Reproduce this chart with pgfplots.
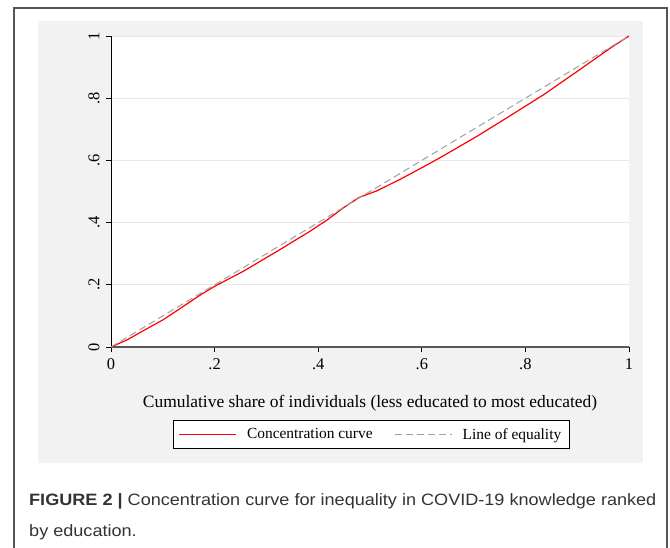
\documentclass[border=0pt]{standalone}
\usepackage{fontspec}
\setmainfont{Liberation Serif}
\newfontfamily\capfont[FakeStretch=1.1]{Liberation Sans}
\usepackage{pgfplots}
\pgfplotsset{compat=1.18}
\definecolor{panelgray}{HTML}{F2F2F2}
\definecolor{gridgray}{HTML}{E8E8E8}
\definecolor{framegray}{HTML}{555555}
\definecolor{eqgray}{HTML}{A0A0A0}
\definecolor{captext}{HTML}{333333}

\begin{document}
\begin{tikzpicture}[x=1bp,y=1bp]
\useasboundingbox (0,0) rectangle (670,548);
\fill[panelgray] (38,85) rectangle (643,527);
\draw[framegray, line width=1.2bp] (14,0) -- (14,540) -- (667,540) -- (667,0);
\begin{axis}[
  at={(111bp,201bp)}, anchor=south west,
  scale only axis, width=518bp, height=311bp,
  xmin=0, xmax=1, ymin=0, ymax=1,
  axis x line*=bottom, axis y line*=left,
  axis line style={-},
  x axis line style={draw=black!65, line width=1.5bp},
  y axis line style={draw=black, line width=0.9bp},
  tick align=outside, major tick length=5bp,
  tick style={black, line width=0.8bp},
  xtick={0,0.2,0.4,0.6,0.8,1},
  xticklabels={0,.2,.4,.6,.8,1},
  ytick={0,0.2,0.4,0.6,0.8,1},
  yticklabels={0,.2,.4,.6,.8,1},
  xticklabel shift=3bp, yticklabel shift=3bp,
  xticklabel style={font=\fontsize{16.5}{16.5}\selectfont},
  yticklabel style={rotate=90, anchor=south, font=\fontsize{16.5}{16.5}\selectfont},
  ymajorgrids, grid style={gridgray, line width=0.8bp},
  axis background/.style={fill=white},
  xlabel={Cumulative share of individuals (less educated to most educated)},
  xlabel style={at={(axis description cs:0.5,-0.18)}, anchor=center, font=\fontsize{17.5}{17.5}\selectfont},
  legend columns=2,
  legend style={at={(axis description cs:0.502,-0.281)}, anchor=center, draw=black,
    fill=white, font=\fontsize{15.5}{15.5}\selectfont, inner xsep=6bp, inner ysep=6bp,
    /tikz/every odd column/.append style={column sep=8bp},
    /tikz/every even column/.append style={column sep=20bp}},
  legend image code/.code={\draw[#1] (0bp,0bp) -- (57bp,0bp);},
]
\addplot[red, line width=1.2bp] coordinates {
  (0,0)(0.03,0.022)(0.062,0.052)(0.101,0.088)(0.13,0.120)(0.156,0.149)
  (0.175,0.170)(0.201,0.196)(0.255,0.243)(0.320,0.307)(0.384,0.372)
  (0.416,0.407)(0.449,0.448)(0.479,0.481)(0.513,0.502)(0.558,0.539)
  (0.603,0.579)(0.642,0.615)(0.706,0.677)(0.770,0.743)(0.835,0.811)
  (0.899,0.885)(0.963,0.960)(1,1)
};
\addlegendentry{Concentration curve}
\addplot[eqgray, dash pattern=on 7bp off 4bp, line width=1bp] coordinates {(0,0)(1,1)};
\addlegendentry{Line of equality}
\end{axis}
\node[anchor=base west, font=\capfont\fontsize{16.5}{16.5}\selectfont, text=captext, inner sep=0pt]
  at (29,42) {\textbf{FIGURE 2 |} Concentration curve for inequality in COVID-19 knowledge ranked};
\node[anchor=base west, font=\capfont\fontsize{16.5}{16.5}\selectfont, text=captext, inner sep=0pt]
  at (29,11) {by education.};
\end{tikzpicture}
\end{document}
